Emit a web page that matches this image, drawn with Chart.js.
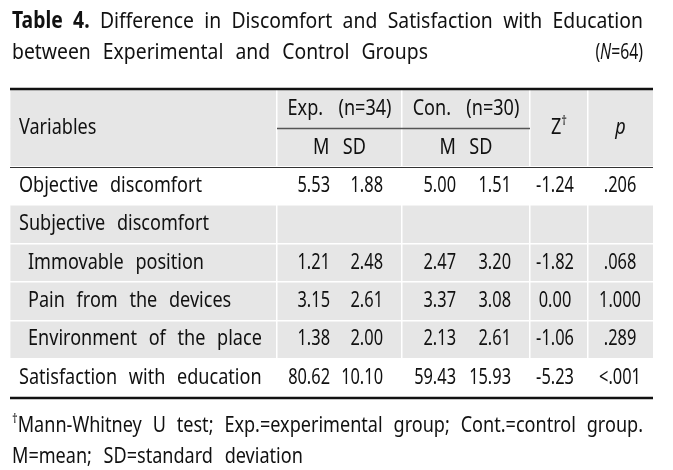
<!DOCTYPE html>
<html>
<head>
<meta charset="utf-8">
<script src="https://cdn.jsdelivr.net/npm/chart.js@4.4.1/dist/chart.umd.min.js"></script>
<style>
  html, body { margin: 0; padding: 0; background: #fff; }
  #wrap { width: 673px; height: 470px; }
</style>
</head>
<body>
<div id="wrap"><canvas id="table4" width="673" height="470"></canvas></div>
<script>
// 표 데이터 (Table 4)
const variables = ['Objective discomfort', 'Subjective discomfort', 'Immovable position',
  'Pain from the devices', 'Environment of the place', 'Satisfaction with education'];
const subItem = [false, false, true, true, true, false];
const shaded = [false, true, true, true, true, false];
const expM = [5.53, null, 1.21, 3.15, 1.38, 80.62];
const expSD = [1.88, null, 2.48, 2.61, 2.00, 10.10];
const conM = [5.00, null, 2.47, 3.37, 2.13, 59.43];
const conSD = [1.51, null, 3.20, 3.08, 2.61, 15.93];
const zValues = [-1.24, null, -1.82, 0.00, -1.06, -5.23];
const pValues = ['.206', null, '.068', '1.000', '.289', '<.001'];
const headerRows = ['head1', 'head2'];
const groupLabels = ['Exp.  (n=34)', 'Con.  (n=30)'];

// 레이아웃 (표 폭 단위)
const colEdges = [0, 267, 392, 520, 578, 643];
const anchor = { label: 9, indent: 18, expM: 320, expSD: 373, conM: 446, conSD: 501, z: 545, p: 610 };

const FONT = '"Noto Sans", "Open Sans", sans-serif';
const SX_TEXT = 0.86;     // 글자 가로 압축 비율
const SX_NUM = 0.78;      // 숫자 가로 압축 비율
const TEXT = '#111';

// 단어 단위로 그리는 텍스트 함수 (정렬, 양쪽 맞춤, 위첨자 지원)
function drawRuns(ctx, runs, x, y, o = {}) {
  const size = o.size || 21;
  const sx = o.sx || SX_TEXT;
  const pieces = [];
  runs.forEach(r => {
    const fs = r.sup ? size * 0.62 : size;
    const font = `${r.italic ? 'italic ' : ''}${r.bold ? 'bold ' : ''}${fs}px ${FONT}`;
    ctx.font = font;
    r.text.split(/( +)/).forEach(tok => {
      if (!tok) return;
      if (tok[0] === ' ') { pieces.push({ space: tok.length }); return; }
      pieces.push({ text: tok, font, w: ctx.measureText(tok).width * sx, dy: r.sup ? -size * 0.33 : 0 });
    });
  });
  ctx.font = `${size}px ${FONT}`;
  const baseSpace = ctx.measureText(' ').width * sx;
  const textW = pieces.reduce((s, p) => s + (p.text ? p.w : 0), 0);
  const nSpaces = pieces.reduce((s, p) => s + (p.space || 0), 0);
  let sp = baseSpace + (o.gap !== undefined ? o.gap : 7);
  if (o.width && nSpaces) sp = (o.width - textW) / nSpaces;
  const total = textW + sp * nSpaces;
  let cx = o.align === 'right' ? x - total : o.align === 'center' ? x - total / 2 : x;
  ctx.textBaseline = 'middle';
  ctx.textAlign = 'left';
  ctx.fillStyle = o.color || TEXT;
  pieces.forEach(p => {
    if (p.space) { cx += sp * p.space; return; }
    ctx.font = p.font;
    ctx.save();
    ctx.translate(cx, y + p.dy);
    ctx.scale(sx, 1);
    ctx.fillText(p.text, 0, 0);
    ctx.restore();
    cx += p.w;
  });
}

function hLine(ctx, x1, x2, y, w, color) {
  ctx.save();
  ctx.strokeStyle = color;
  ctx.lineWidth = w;
  ctx.beginPath();
  ctx.moveTo(x1, y);
  ctx.lineTo(x2, y);
  ctx.stroke();
  ctx.restore();
}

const tablePlugin = {
  id: 'tableText',
  afterDraw(chart) {
    const { ctx, chartArea: a, scales: { x, y } } = chart;
    const X = v => x.getPixelForValue(v);
    const Y = v => y.getPixelForValue(v);

    // 괘선
    hLine(ctx, a.left, a.right, a.top - 1, 2.5, '#111');
    hLine(ctx, a.left, a.right, a.bottom + 1, 2.5, '#111');
    hLine(ctx, a.left, a.right, Math.round(Y(1.5)) + 0.5, 1.2, '#333');
    hLine(ctx, X(colEdges[1]), X(colEdges[3]), Math.round(Y(0.5)) + 0.5, 1.5, '#555');

    // 머리글
    drawRuns(ctx, [{ text: 'Variables' }], X(anchor.label), Y(0.5));
    drawRuns(ctx, [{ text: groupLabels[0] }], X((colEdges[1] + colEdges[2]) / 2), Y(0), { align: 'center', gap: 3 });
    drawRuns(ctx, [{ text: groupLabels[1] }], X((colEdges[2] + colEdges[3]) / 2), Y(0), { align: 'center', gap: 3 });
    drawRuns(ctx, [{ text: 'M  SD' }], X((colEdges[1] + colEdges[2]) / 2), Y(1), { align: 'center', gap: 2 });
    drawRuns(ctx, [{ text: 'M  SD' }], X((colEdges[2] + colEdges[3]) / 2), Y(1), { align: 'center', gap: 2 });
    drawRuns(ctx, [{ text: 'Z' }, { text: '†', sup: true }], X((colEdges[3] + colEdges[4]) / 2), Y(0.5), { align: 'center' });
    drawRuns(ctx, [{ text: 'p', italic: true }], X((colEdges[4] + colEdges[5]) / 2), Y(0.5), { align: 'center' });

    // 본문 행
    const fmt = v => (v === null ? '' : v.toFixed(2));
    const num = { sx: SX_NUM };
    variables.forEach((name, i) => {
      const yy = Y(i + 2);
      drawRuns(ctx, [{ text: name }], X(subItem[i] ? anchor.indent : anchor.label), yy);
      if (expM[i] === null) return;
      drawRuns(ctx, [{ text: fmt(expM[i]) }], X(anchor.expM), yy, { ...num, align: 'right' });
      drawRuns(ctx, [{ text: fmt(expSD[i]) }], X(anchor.expSD), yy, { ...num, align: 'right' });
      drawRuns(ctx, [{ text: fmt(conM[i]) }], X(anchor.conM), yy, { ...num, align: 'right' });
      drawRuns(ctx, [{ text: fmt(conSD[i]) }], X(anchor.conSD), yy, { ...num, align: 'right' });
      drawRuns(ctx, [{ text: fmt(zValues[i]) }], X(anchor.z), yy, { ...num, align: 'center' });
      drawRuns(ctx, [{ text: pValues[i] }], X(anchor.p), yy, { ...num, align: 'center' });
    });

    // 표 제목
    drawRuns(ctx, [{ text: 'Table 4.', bold: true }, { text: ' Difference in Discomfort and Satisfaction with Education' }],
      12, 22, { width: 631, size: 22.5 });
    drawRuns(ctx, [{ text: 'between Experimental and Control Groups' }], 12, 53, { gap: 7, size: 22.5 });
    drawRuns(ctx, [{ text: '(' }, { text: 'N', italic: true }, { text: '=64)' }], 643, 53, { align: 'right', size: 22.5, sx: 0.7 });

    // 각주
    drawRuns(ctx, [{ text: '†', sup: true }, { text: 'Mann-Whitney U test; Exp.=experimental group; Cont.=control group.' }],
      12, 426, { width: 631 });
    drawRuns(ctx, [{ text: 'M=mean; SD=standard deviation' }], 12, 457, { gap: 7 });
  }
};

const rowLabels = headerRows.concat(variables);
const shadeData = rowLabels.map((_, i) =>
  (i < headerRows.length || shaded[i - headerRows.length]) ? [colEdges[0], colEdges[colEdges.length - 1]] : null);

new Chart(document.getElementById('table4'), {
  type: 'bar',
  data: {
    labels: rowLabels,
    datasets: [{
      data: shadeData,
      backgroundColor: '#e6e6e6',
      borderWidth: 0,
      barPercentage: 1,
      categoryPercentage: 1
    }]
  },
  options: {
    indexAxis: 'y',
    responsive: false,
    animation: false,
    layout: { padding: { top: 90, bottom: 73, left: 10, right: 20 } },
    plugins: { legend: { display: false }, tooltip: { enabled: false } },
    scales: {
      x: {
        type: 'linear', min: colEdges[0], max: colEdges[colEdges.length - 1],
        ticks: { display: false }, border: { display: false },
        grid: {
          z: 1,
          color: c => (c.index > 0 && c.index < colEdges.length - 1) ? '#ffffff' : 'rgba(0,0,0,0)',
          lineWidth: 1.5, drawTicks: false
        },
        afterBuildTicks: s => { s.ticks = colEdges.map(v => ({ value: v })); },
        afterFit: s => { s.height = 0; }
      },
      y: {
        ticks: { display: false }, border: { display: false },
        grid: {
          z: 1,
          color: c => (c.index >= 2 && c.index < rowLabels.length) ? '#ffffff' : 'rgba(0,0,0,0)',
          lineWidth: 1.5, drawTicks: false
        },
        afterFit: s => { s.width = 0; }
      }
    }
  },
  plugins: [tablePlugin]
});
</script>
</body>
</html>
